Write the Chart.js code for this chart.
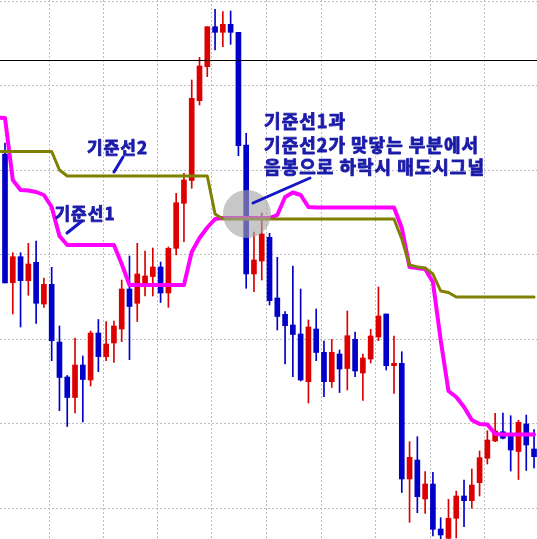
<!DOCTYPE html>
<html lang="ko">
<head>
<meta charset="UTF-8" />
<title>기준선1 / 기준선2 매도시그널</title>
<script src="https://cdn.jsdelivr.net/npm/chart.js"></script>
<style>
  html, body { margin: 0; padding: 0; background: #fff; }
  .wrap { width: 537px; height: 539px; position: relative; }
</style>
</head>
<body>
<div class="wrap"><canvas id="kijunChart"></canvas></div>
<script>
// candles, one per bar (index 0 = left edge)
const openPrice = [
  385, 256.3, 282.3, 258.3, 276.7, 235, 254.7, 197, 162, 141.5,
  174, 159, 206, 182.3, 196, 210, 250, 235.7, 255, 262.5,
  272, 246, 290.7, 335.7, 358.5, 438.3, 472.3, 512.3, 506.7, 514.7,
  506.7, 394, 265, 278, 301.7, 241, 224.7, 214, 205, 157.3,
  210, 186.7, 157.3, 185, 170.5, 199.7, 166, 180, 202, 225,
  173.3, 175.7, 60, 79, 40, 55, 10, 0.7, 20.7, 43,
  38.3, 56.3, 80.7, 98, 107.3, 103.3, 87.5, 115, 90
];
const highPrice = [
  396, 286.3, 286.3, 295.7, 298, 261, 271.7, 213, 163.5, 201,
  183, 208, 219.5, 217.3, 218, 259, 283, 295.7, 288, 291,
  277, 292, 345.7, 365.7, 459, 481.7, 512.3, 529.7, 527.3, 528,
  506.7, 405.7, 307, 326, 305.7, 281.7, 227.3, 273, 250, 219,
  230, 198, 199.7, 189, 228, 207, 185, 209.7, 252, 225,
  203, 187.3, 97.3, 102.3, 67.3, 66.7, 21.3, 39.7, 48, 59,
  70, 88, 108.3, 125.7, 126, 123.3, 118.7, 124, 109.5
];
const lowPrice = [
  256, 225, 212, 243.7, 215.7, 231.7, 178.3, 128.3, 112.5, 126,
  117, 153, 167.3, 178.3, 176.7, 197.3, 179.3, 217.5, 243, 243,
  236.5, 231.7, 284, 297.3, 350.7, 434, 462.3, 489, 492.3, 494.7,
  383.3, 250.7, 247.3, 259, 234, 209, 175, 162.3, 158, 136,
  178.3, 142.3, 151.5, 146.5, 149, 162.3, 138.5, 176, 198.3, 169,
  145.7, 46.5, 16.7, 26.3, 25.7, 3, -0.5, -6, 1, 12.3,
  30.7, 43, 75, 97.3, 100, 68, 59.5, 68.5, 71
];
const closePrice = [
  256, 282.3, 258.3, 275, 235.7, 254.7, 198.3, 161.5, 141.5, 174,
  159.5, 206, 182.3, 195, 213, 250, 232.5, 265, 263, 272,
  246, 290.7, 336.3, 359, 440.7, 473, 512.3, 506.7, 514.7, 506.7,
  393.3, 265, 279, 305, 238.3, 222.5, 213.3, 204.5, 159, 212,
  186.5, 157.3, 186.7, 170, 203.3, 168, 181, 203, 223, 173.3,
  175.7, 60, 81.7, 42.3, 55, 9.7, 4, 20.7, 43, 38.3,
  54, 81.3, 99, 108, 100.7, 89, 116.7, 94, 82.3
];

// 기준선 values, starting one bar before index 0
const kijun1 = [
  421.5, 421, 359, 349, 348.5, 347, 344, 332, 303, 294,
  294, 294, 294, 294, 294, 294, 275, 254, 254, 254,
  254, 254, 254, 254, 254, 287, 301, 311.5, 320, 321,
  321, 321, 321, 321, 321, 321, 324, 342, 346.5, 344,
  332, 331.5, 331.5, 331.5, 331.5, 331.5, 331.5, 331.5, 331.5, 331.5,
  331.5, 331.5, 311, 272, 271, 270, 257, 199, 148, 142,
  132, 119, 115, 114.5, 105, 104.5, 104.5, 104.5, 104.5, 104.5
];
const kijun2 = [
  387.5, 387.5, 387.5, 387.5, 387.5, 387.5, 387.5, 387.5, 369, 363,
  363, 363, 363, 363, 363, 363, 363, 363, 363, 363,
  363, 363, 363, 363, 363, 363, 363, 363, 325, 320,
  320, 320, 320, 320, 320, 320, 320, 320, 320, 320,
  320, 320, 320, 320, 320, 320, 320, 320, 320, 320,
  320, 320, 300, 274, 272, 271, 265, 248, 246.5, 242,
  242, 242, 242, 242, 242, 242, 242, 242, 242, 242
];

const blackLevel = 478.5;
const signalSpot = { x: 31.1, y: 325 };

// grid positions (bar index / price)
const timeGrid = [2.2, 9.15, 16.1, 23.05, 30.1, 37.15, 44.2, 51.15, 58.2, 65.15];
const priceGrid = [30.7, 115.2, 199.7, 284.2, 368.7, 453.2, 537.7];

const notes = [
  { text: "기준선2", i: 10.54, p: 391, size: 17 },
  { text: "기준선1", i: 6.36, p: 325, size: 17 },
  { text: "기준선1과", i: 33.3, p: 417.5, size: 18 },
  { text: "기준선2가 맞닿는 부분에서", i: 33.3, p: 394, size: 18 },
  { text: "음봉으로 하락시 매도시그널", i: 33.3, p: 372, size: 18 }
];
const pointers = [
  [15.17, 382, 14.01, 367],
  [9.9, 318, 7.97, 306],
  [39.2, 361, 31.88, 336]
];

const idx = openPrice.map((_, i) => i);
const candleColors = idx.map(i => closePrice[i] >= openPrice[i] ? "#dc0000" : "#0000c8");
const bodyData = idx.map(i => ({ x: i, y: [openPrice[i], closePrice[i]] }));
const wickData = idx.map(i => ({ x: i, y: [lowPrice[i], highPrice[i]] }));
const line1 = kijun1.map((v, k) => ({ x: k - 1, y: v }));
const line2 = kijun2.map((v, k) => ({ x: k - 1, y: v }));

const notePlugin = {
  id: "notes",
  afterDatasetsDraw(chart) {
    const { ctx } = chart;
    const x = chart.scales.x, y = chart.scales.y;
    ctx.save();
    ctx.strokeStyle = "#1414c8";
    ctx.lineWidth = 3;
    ctx.lineCap = "round";
    pointers.forEach(p => {
      ctx.beginPath();
      ctx.moveTo(x.getPixelForValue(p[0]), y.getPixelForValue(p[1]));
      ctx.lineTo(x.getPixelForValue(p[2]), y.getPixelForValue(p[3]));
      ctx.stroke();
    });
    // text is bold in the original; thicken with a thin stroke
    ctx.fillStyle = "#1c1caa";
    ctx.strokeStyle = "#1c1caa";
    ctx.lineWidth = 0.9;
    ctx.lineJoin = "round";
    ctx.textBaseline = "middle";
    ctx.letterSpacing = "1px";
    notes.forEach(n => {
      ctx.font = "bold " + n.size + 'px "Noto Sans CJK KR"';
      const tx = x.getPixelForValue(n.i), ty = y.getPixelForValue(n.p);
      ctx.fillText(n.text, tx, ty);
      ctx.strokeText(n.text, tx, ty);
    });
    ctx.restore();
  }
};

const lineStyle = { pointRadius: 0, tension: 0, borderJoinStyle: "round", borderCapStyle: "round", fill: false };

new Chart(document.getElementById("kijunChart"), {
  type: "bar",
  data: {
    datasets: [
      { type: "scatter", data: [signalSpot], pointRadius: 24, pointHoverRadius: 24,
        backgroundColor: "rgba(165,165,165,0.62)", borderWidth: 0, order: 0 },
      { type: "line", label: "기준선2", data: line2, borderColor: "#808000", borderWidth: 3, order: 1, ...lineStyle },
      { type: "line", label: "기준선1", data: line1, borderColor: "#ff00ff", borderWidth: 4, order: 2, ...lineStyle },
      { type: "line", data: [{ x: -1, y: blackLevel }, { x: 70, y: blackLevel }],
        borderColor: "#000000", borderWidth: 1, pointRadius: 0, order: 3 },
      { label: "body", data: bodyData, backgroundColor: candleColors, barThickness: 5,
        grouped: false, borderWidth: 0, order: 4 },
      { label: "wick", data: wickData, backgroundColor: candleColors, barThickness: 1,
        grouped: false, borderWidth: 0, order: 5 }
    ]
  },
  options: {
    responsive: true,
    maintainAspectRatio: false,
    animation: false,
    events: [],
    layout: { padding: 0, autoPadding: false },
    plugins: { legend: { display: false }, tooltip: { enabled: false } },
    scales: {
      x: {
        type: "linear", min: -0.643, max: 68.38, offset: false,
        afterBuildTicks: s => { s.ticks = timeGrid.map(v => ({ value: v })); },
        ticks: { display: false },
        grid: { drawTicks: false, color: c => c.index === 0 ? "#b0b0b0" : "#bdbdbd", lineWidth: 1 },
        border: { display: false, dash: c => c.index === 0 ? [] : [2, 2] }
      },
      y: {
        type: "linear", min: 0, max: 539,
        afterBuildTicks: s => { s.ticks = priceGrid.map(v => ({ value: v })); },
        ticks: { display: false },
        grid: { drawTicks: false, color: "#bdbdbd", lineWidth: 1 },
        border: { display: false, dash: [2, 2] }
      }
    }
  },
  plugins: [notePlugin]
});
</script>
</body>
</html>
